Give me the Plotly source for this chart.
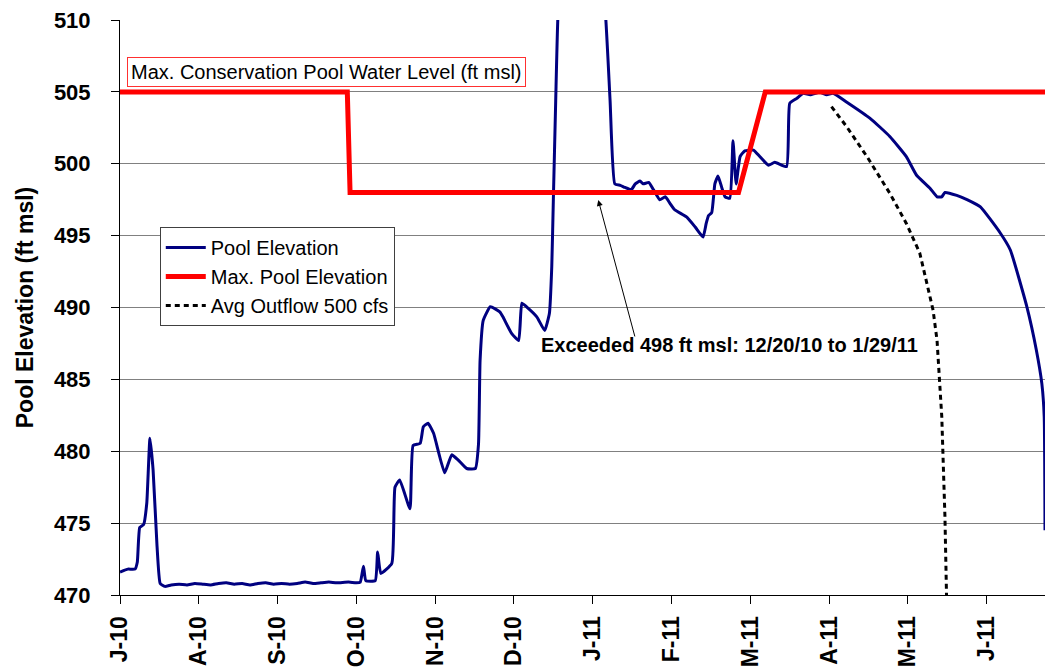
import plotly.graph_objects as go

# x positions are in months after the J-10 tick (0 = J-10, 1 = A-10, ...)
tick_vals = list(range(12))
tick_text = ["J-10", "A-10", "S-10", "O-10", "N-10", "D-10",
             "J-11", "F-11", "M-11", "A-11", "M-11", "J-11"]

pool_x = [0.00, 0.10, 0.19, 0.22, 0.25, 0.30, 0.34, 0.38, 0.42, 0.47, 0.51, 0.57,
          0.65, 0.75, 0.85, 0.95, 1.05, 1.15, 1.25, 1.35, 1.45, 1.55, 1.65, 1.75,
          1.85, 1.95, 2.05, 2.15, 2.25, 2.35, 2.45, 2.55, 2.65, 2.75, 2.90, 3.00, 3.05,
          3.09, 3.12, 3.24, 3.27, 3.31, 3.45, 3.49, 3.55, 3.68, 3.72, 3.81, 3.85, 3.91,
          3.98, 4.12, 4.21, 4.29, 4.40, 4.51, 4.55, 4.57, 4.61, 4.70, 4.82, 4.86, 4.97,
          5.06, 5.10, 5.16, 5.29, 5.39, 5.45, 5.48, 5.50, 5.53, 5.56, 5.65, 5.84, 6.03,
          6.16, 6.22, 6.28, 6.35, 6.41, 6.49, 6.54, 6.60, 6.64, 6.71, 6.77, 6.85, 6.92,
          6.98, 7.04, 7.19, 7.30, 7.40, 7.44, 7.47, 7.51, 7.55, 7.59, 7.64, 7.68, 7.74,
          7.78, 7.82, 7.87, 7.93, 8.04, 8.12, 8.23, 8.31, 8.46, 8.50, 8.59, 8.67, 8.76,
          8.88, 8.97, 9.05, 9.22, 9.52, 9.77, 9.98, 10.11, 10.28, 10.37, 10.43, 10.47,
          10.62, 10.75, 10.92, 11.17, 11.30, 11.51, 11.63, 11.70, 11.73, 11.74]
pool_y = [471.6, 471.8, 471.8, 472.3, 474.7, 474.9, 476.4, 480.9, 478.7, 473.4, 470.8, 470.6,
          470.7, 470.75, 470.7, 470.8, 470.75, 470.7, 470.8, 470.85, 470.75, 470.8, 470.7, 470.8,
          470.85, 470.75, 470.8, 470.75, 470.8, 470.9, 470.8, 470.85, 470.9, 470.85, 470.9, 470.85, 470.9,
          472.0, 471.0, 471.0, 473.0, 471.5, 472.2, 477.5, 478.0, 476.0, 480.4, 480.55, 481.7, 481.95,
          481.25, 478.5, 479.75, 479.4, 478.8, 478.8, 480.5, 486.3, 489.1, 490.05, 489.7, 489.35, 488.2,
          487.7, 490.3, 490.05, 489.35, 488.4, 489.6, 492.85, 497.5, 504.4, 510.5, 516.0, 519.0, 516.0,
          510.5, 504.4, 498.6, 498.5, 498.35, 498.2, 498.6, 498.8, 498.6, 498.7, 498.2, 497.5, 497.7,
          497.25, 496.8, 496.3, 495.6, 494.9, 495.85, 496.4, 496.6, 498.6, 499.15, 498.3, 497.7, 497.6,
          501.6, 498.6, 500.5, 500.9, 500.95, 500.5, 499.9, 500.1, 499.8, 504.2, 504.55, 504.9, 504.8,
          504.97, 504.8, 504.9, 504.3, 503.16, 501.9, 500.5, 499.2, 498.3, 497.7, 497.7, 498.0,
          497.8, 497.5, 497.0, 495.2, 494.0, 490.05, 487.05, 484.7, 482.4, 474.5]

max_x = [0.00, 2.885, 2.92, 7.85, 8.19, 11.74]
max_y = [505, 505, 498, 498, 505, 505]

outflow_x = [9.03, 9.22, 9.48, 9.77, 9.98, 10.07, 10.15, 10.24, 10.32, 10.37, 10.40, 10.43,
             10.45, 10.47, 10.49]
outflow_y = [503.97, 502.6, 500.5, 497.95, 495.85, 494.7, 493.8, 491.7, 489.8, 487.7, 485.4, 482.4,
             478.9, 475.45, 470.0]

FONT = "Liberation Sans, Arial, sans-serif"

fig = go.Figure()
fig.add_trace(go.Scatter(x=pool_x, y=pool_y, mode="lines", name="Pool Elevation",
                         line=dict(color="#000080", width=3, shape="spline", smoothing=0.4)))
fig.add_trace(go.Scatter(x=max_x, y=max_y, mode="lines", name="Max. Pool Elevation",
                         line=dict(color="#ff0000", width=5)))
fig.add_trace(go.Scatter(x=outflow_x, y=outflow_y, mode="lines", name="Avg Outflow 500 cfs",
                         line=dict(color="#000000", width=3, dash="5px,4px")))

fig.add_annotation(x=0.085, y=506.35, xref="x", yref="y", xanchor="left", yanchor="middle",
                   text="Max. Conservation Pool Water Level (ft msl)", showarrow=False,
                   font=dict(family=FONT, size=20, color="#000000"),
                   bordercolor="#ff3030", borderwidth=1, borderpad=3, bgcolor="#ffffff")
fig.add_annotation(x=7.736, y=487.4, xref="x", yref="y", xanchor="center", yanchor="middle",
                   text="<b>Exceeded 498 ft msl: 12/20/10 to 1/29/11</b>", showarrow=False,
                   font=dict(family=FONT, size=20, color="#000000"))
fig.add_annotation(x=6.07, y=497.48, xref="x", yref="y", text="", showarrow=True,
                   arrowhead=2, arrowsize=1.2, arrowwidth=1, arrowcolor="#000000",
                   ax=37, ay=138)

fig.update_layout(
    width=1045, height=667,
    margin=dict(l=120, r=0, t=20, b=72, autoexpand=False),
    paper_bgcolor="#ffffff", plot_bgcolor="#ffffff",
    font=dict(family=FONT, color="#000000"),
    showlegend=True,
    legend=dict(x=0.043, y=0.64, xanchor="left", yanchor="top",
                bgcolor="#ffffff", bordercolor="#404040", borderwidth=1,
                font=dict(family=FONT, size=20, color="#000000"),
                tracegroupgap=0, itemwidth=40),
)
fig.update_xaxes(range=[0, 11.74], tickmode="array", tickvals=tick_vals, ticktext=tick_text,
                 tickangle=-90, tickfont=dict(family=FONT, size=23, color="#000000", weight="bold"),
                 showgrid=False, showline=True, linecolor="#000000", linewidth=1,
                 ticks="outside", ticklen=8, tickcolor="#000000", zeroline=False,
                 ticklabelstandoff=3, automargin=False, ticklabeloverflow="allow")
fig.update_yaxes(range=[470, 510], tickmode="array", tickvals=list(range(470, 511, 5)),
                 tickfont=dict(family=FONT, size=22, color="#000000", weight="bold"),
                 showgrid=True, gridcolor="#808080", gridwidth=1,
                 showline=True, linecolor="#000000", linewidth=1,
                 ticks="outside", ticklen=8, tickcolor="#000000", zeroline=False,
                 ticklabelstandoff=16, automargin=False, ticklabeloverflow="allow",
                 title=dict(text="<b>Pool Elevation (ft msl)</b>", standoff=13,
                            font=dict(family=FONT, size=23, color="#000000")))

fig.write_html("out.html", config={"displayModeBar": False},
               post_script="document.body.style.margin='0px';document.body.style.overflow='hidden';")
